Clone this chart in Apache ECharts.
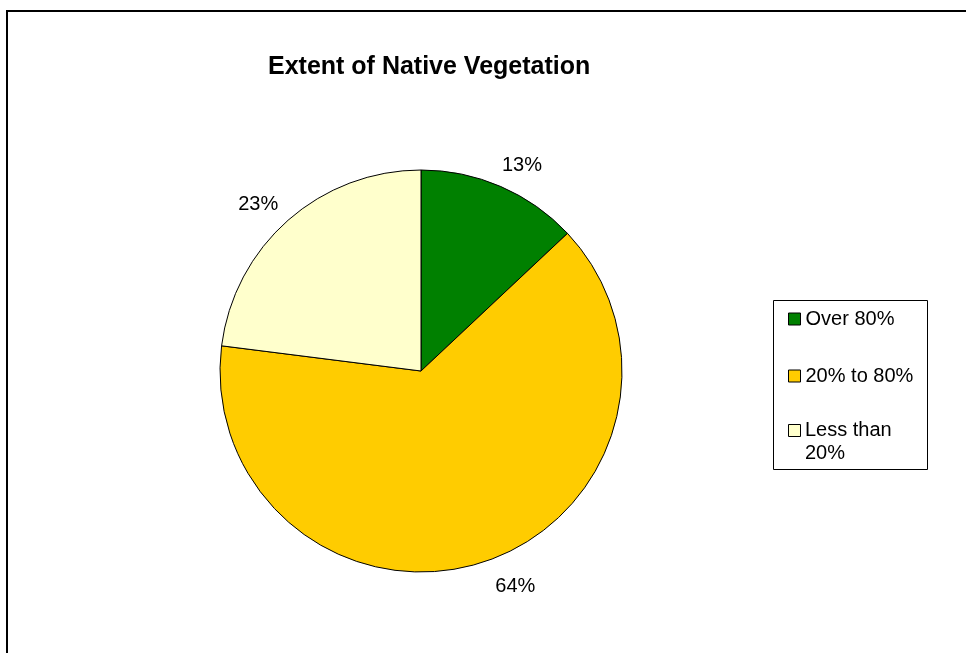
<!DOCTYPE html>
<html>
<head>
<meta charset="utf-8">
<style>
  html, body { margin: 0; padding: 0; background: #fff; }
  #chart { width: 966px; height: 653px; }
</style>
<script src="https://cdn.jsdelivr.net/npm/echarts@6/dist/echarts.min.js"></script>
</head>
<body>
<div id="chart"></div>
<script>
// Share of land by extent of remaining native vegetation
const categories = ['Over 80%', '20% to 80%', 'Less than 20%'];
const shares = [13, 64, 23];
const sliceColors = ['#008000', '#FFCC00', '#FFFFCC'];
const legendLabels = ['Over 80%', '20% to 80%', 'Less than\n20%'];
// small nudges for the percent labels around the rim
const labelNudges = [[8, 9], [22, -7], [-8, 9]];

const FONT = '"Liberation Sans", Arial, sans-serif';

const pieData = categories.map((name, i) => ({
  name: name,
  value: shares[i],
  itemStyle: { color: sliceColors[i] }
}));

// Percent labels sit in an invisible ring just outside the pie
const labelRingData = categories.map((name, i) => ({
  name: name,
  value: shares[i],
  label: { offset: labelNudges[i] }
}));

const chart = echarts.init(document.getElementById('chart'), null, { renderer: 'canvas' });

const legendBase = {
  orient: 'vertical',
  padding: 0,
  itemWidth: 12,
  itemHeight: 12,
  selectedMode: false,
  textStyle: { fontFamily: FONT, fontSize: 20, color: '#000', lineHeight: 23 },
  itemStyle: { borderColor: '#000', borderWidth: 1 }
};

chart.setOption({
  animation: false,
  backgroundColor: '#fff',
  title: {
    text: 'Extent of Native Vegetation',
    left: 263,
    top: 50,
    textStyle: { fontFamily: FONT, fontSize: 25, fontWeight: 'bold', color: '#000' }
  },
  graphic: [
    {
      type: 'rect',
      z: 0,
      shape: { x: 7, y: 11, width: 1000, height: 700 },
      style: { fill: 'none', stroke: '#000', lineWidth: 2 }
    },
    {
      type: 'rect',
      z: 0,
      shape: { x: 773.5, y: 300.5, width: 154, height: 169 },
      style: { fill: '#fff', stroke: '#000', lineWidth: 1 }
    }
  ],
  legend: [
    Object.assign({}, legendBase, {
      left: 788, top: 307.5,
      data: [{ name: categories[0], icon: 'rect' }],
      formatter: () => legendLabels[0]
    }),
    Object.assign({}, legendBase, {
      left: 788, top: 364.5,
      data: [{ name: categories[1], icon: 'rect' }],
      formatter: () => legendLabels[1]
    }),
    // swatch for the last entry, level with its first text line
    Object.assign({}, legendBase, {
      left: 788, top: 424,
      data: [{ name: categories[2], icon: 'rect' }],
      textStyle: { fontFamily: FONT, fontSize: 20, color: '#000', lineHeight: 12 },
      formatter: () => ''
    }),
    // two-line text for the last entry
    Object.assign({}, legendBase, {
      left: 788, top: 418.5,
      data: [{ name: categories[2], icon: 'none' }],
      itemStyle: { opacity: 0 },
      formatter: () => legendLabels[2]
    })
  ],
  series: [
    {
      type: 'pie',
      center: [421, 371],
      radius: [0, 201],
      startAngle: 90,
      clockwise: true,
      silent: true,
      emphasis: { disabled: true },
      label: { show: false },
      labelLine: { show: false },
      itemStyle: { borderColor: '#000', borderWidth: 1 },
      data: pieData
    },
    {
      type: 'pie',
      center: [421, 371],
      radius: [209, 253],
      startAngle: 90,
      clockwise: true,
      silent: true,
      legendHoverLink: false,
      emphasis: { disabled: true },
      itemStyle: { color: 'rgba(0,0,0,0)', borderWidth: 0 },
      label: {
        show: true,
        position: 'inside',
        formatter: '{c}%',
        fontFamily: FONT,
        fontSize: 20,
        color: '#000'
      },
      labelLine: { show: false },
      data: labelRingData
    }
  ]
});
</script>
</body>
</html>
